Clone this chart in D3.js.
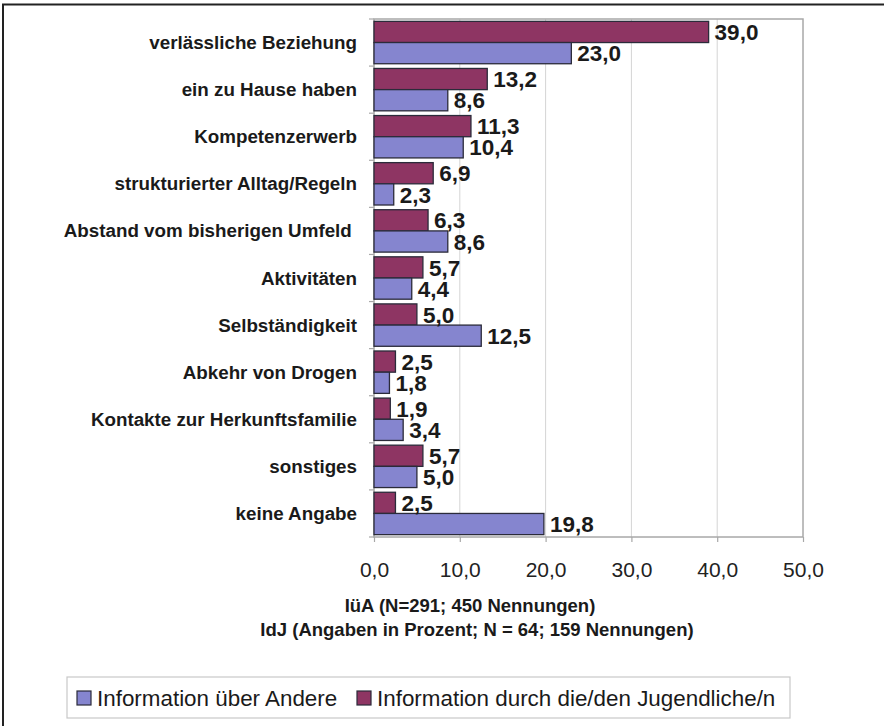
<!DOCTYPE html>
<html>
<head>
<meta charset="utf-8">
<script src="https://cdn.jsdelivr.net/npm/d3@7"></script>
<style>
  html, body { margin: 0; padding: 0; background: #fff; }
  svg { display: block; font-family: "Liberation Sans", Arial, sans-serif; }
</style>
</head>
<body>
<svg id="chart" width="884" height="726"></svg>
<script>
// Categories (top to bottom)
const categories = [
  "verlässliche Beziehung",
  "ein zu Hause haben",
  "Kompetenzerwerb",
  "strukturierter Alltag/Regeln",
  "Abstand vom bisherigen Umfeld ",
  "Aktivitäten",
  "Selbständigkeit",
  "Abkehr von Drogen",
  "Kontakte zur Herkunftsfamilie",
  "sonstiges",
  "keine Angabe"
];

// Information durch die/den Jugendliche/n (upper bar of each pair)
const jugendliche = [39.0, 13.2, 11.3, 6.9, 6.3, 5.7, 5.0, 2.5, 1.9, 5.7, 2.5];
// Information über Andere (lower bar of each pair)
const andere = [23.0, 8.6, 10.4, 2.3, 8.6, 4.4, 12.5, 1.8, 3.4, 5.0, 19.8];

const seriesNames = ["Information über Andere", "Information durch die/den Jugendliche/n"];
const xTicks = [0, 10, 20, 30, 40, 50];
const axisTitle = ["IüA (N=291; 450 Nennungen)", "IdJ (Angaben in Prozent; N = 64; 159 Nennungen)"];

const colAndere = "#8585cf";
const colJug = "#8e3563";
const outline = "#2b2b3a";

const svg = d3.select("#chart");

// outer frame
svg.append("path")
  .attr("d", "M3,730 L3,4.5 L884,4.5")
  .attr("fill", "none").attr("stroke", "#222").attr("stroke-width", 2);

const plot = { left: 374, right: 803, top: 19, bottom: 537 };

const x = d3.scaleLinear().domain([0, 50]).range([plot.left, plot.right]);
const y = d3.scaleBand().domain(categories).range([plot.top, plot.bottom])
  .paddingInner(0.1).paddingOuter(0.05);
const sub = d3.scaleBand().domain(["jug", "andere"]).range([0, y.bandwidth()]);

// gridlines
svg.append("g").selectAll("line").data(xTicks.slice(1, -1)).join("line")
  .attr("x1", d => x(d)).attr("x2", d => x(d))
  .attr("y1", plot.top).attr("y2", plot.bottom)
  .attr("stroke", "#d4d4d4").attr("stroke-width", 1);

// plot frame
svg.append("rect")
  .attr("x", plot.left).attr("y", plot.top)
  .attr("width", plot.right - plot.left).attr("height", plot.bottom - plot.top)
  .attr("fill", "none").attr("stroke", "#a8a8a8").attr("stroke-width", 1.5);

// left axis ticks at category boundaries
const boundaries = d3.range(categories.length + 1).map(i => plot.top + i * (plot.bottom - plot.top) / categories.length);
svg.append("g").selectAll("line").data(boundaries).join("line")
  .attr("x1", plot.left - 5).attr("x2", plot.left)
  .attr("y1", d => d).attr("y2", d => d)
  .attr("stroke", "#a8a8a8").attr("stroke-width", 1.2);

// bottom axis
const xAxis = d3.axisBottom(x).tickValues(xTicks)
  .tickFormat(d => d3.format(".1f")(d).replace(".", ","))
  .tickSize(5).tickPadding(20);
const gx = svg.append("g").attr("transform", `translate(0,${plot.bottom})`).call(xAxis);
gx.select(".domain").remove();
gx.selectAll(".tick line").attr("stroke", "#a8a8a8").attr("stroke-width", 1.2);
gx.selectAll(".tick text")
  .attr("font-size", 21).attr("fill", "#222")
  .attr("font-family", "Liberation Sans, Arial, sans-serif");

// category labels
svg.append("g").selectAll("text").data(categories).join("text")
  .attr("x", 357)
  .attr("y", d => y(d) + y.bandwidth() / 2)
  .attr("dy", "0.35em")
  .attr("text-anchor", "end")
  .attr("font-size", 18.8).attr("font-weight", "bold").attr("fill", "#1a1a1a")
  .style("white-space", "pre")
  .text(d => d);

// bars
const rows = categories.map((c, i) => ({ cat: c, jug: jugendliche[i], andere: andere[i] }));
const groups = svg.append("g").selectAll("g").data(rows).join("g")
  .attr("transform", d => `translate(0,${y(d.cat)})`);

const barData = d => [
  { key: "jug", value: d.jug, color: colJug },
  { key: "andere", value: d.andere, color: colAndere }
];

groups.selectAll("rect").data(barData).join("rect")
  .attr("x", x(0))
  .attr("y", d => sub(d.key))
  .attr("width", d => x(d.value) - x(0))
  .attr("height", sub.bandwidth())
  .attr("fill", d => d.color)
  .attr("stroke", outline).attr("stroke-width", 1.3);

// value labels
groups.selectAll("text").data(barData).join("text")
  .attr("x", d => x(d.value) + 6)
  .attr("y", d => sub(d.key) + sub.bandwidth() / 2)
  .attr("dy", "0.36em")
  .attr("font-size", 22.5).attr("font-weight", "bold").attr("fill", "#1a1a1a")
  .text(d => d3.format(".1f")(d.value).replace(".", ","));

// axis title (two lines)
svg.append("text").attr("x", 470).attr("y", 612)
  .attr("text-anchor", "middle").attr("font-size", 18.5).attr("font-weight", "bold").attr("fill", "#1a1a1a")
  .text(axisTitle[0]);
svg.append("text").attr("x", 477).attr("y", 636)
  .attr("text-anchor", "middle").attr("font-size", 18.5).attr("font-weight", "bold").attr("fill", "#1a1a1a")
  .text(axisTitle[1]);

// legend
const legend = svg.append("g");
legend.append("rect")
  .attr("x", 67).attr("y", 677).attr("width", 723).attr("height", 41)
  .attr("fill", "#fff").attr("stroke", "#c8c8c8").attr("stroke-width", 1.2);
const legendItems = [
  { name: seriesNames[0], color: colAndere, x: 77 },
  { name: seriesNames[1], color: colJug, x: 357 }
];
const li = legend.selectAll("g").data(legendItems).join("g")
  .attr("transform", d => `translate(${d.x},0)`);
li.append("rect")
  .attr("x", 0).attr("y", 691).attr("width", 14).attr("height", 14)
  .attr("fill", d => d.color).attr("stroke", outline).attr("stroke-width", 1.2);
li.append("text")
  .attr("x", 20).attr("y", 698).attr("dy", "0.35em")
  .attr("font-size", 22.4).attr("fill", "#1a1a1a")
  .text(d => d.name);
</script>
</body>
</html>
